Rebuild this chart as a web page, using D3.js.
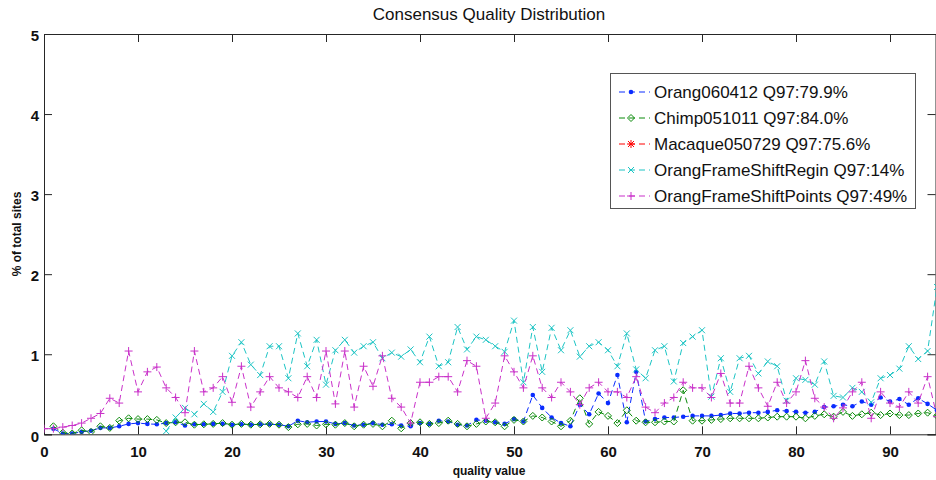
<!DOCTYPE html>
<html>
<head>
<meta charset="utf-8">
<script src="https://cdn.jsdelivr.net/npm/d3@7"></script>
<style>
  html, body { margin: 0; padding: 0; background: #fff; }
  svg { display: block; font-family: "Liberation Sans", Arial, Helvetica, sans-serif; }
</style>
</head>
<body>
<svg id="chart" width="936" height="480"></svg>
<script>
// quality values 0..95, each series starts at its own first quality value
const X_TICKS = [0, 10, 20, 30, 40, 50, 60, 70, 80, 90];
const Y_TICKS = [0, 1, 2, 3, 4, 5];

const LABELS = [
  "Orang060412 Q97:79.9%",
  "Chimp051011 Q97:84.0%",
  "Macaque050729 Q97:75.6%",
  "OrangFrameShiftRegin Q97:14%",
  "OrangFrameShiftPoints Q97:49%"
];

// Orang060412, quality 1..95
const orangStart = 1;
const orangVals = [
  0.07, 0.01, 0.01, 0.03, 0.045, 0.08, 0.08, 0.10, 0.13, 0.14,
  0.13, 0.125, 0.14, 0.15, 0.11, 0.125, 0.125, 0.13, 0.13, 0.12,
  0.125, 0.12, 0.125, 0.125, 0.12, 0.10, 0.17, 0.15, 0.16, 0.16,
  0.13, 0.14, 0.11, 0.12, 0.14, 0.12, 0.125, 0.11, 0.10, 0.14,
  0.13, 0.17, 0.16, 0.12, 0.11, 0.18, 0.17, 0.15, 0.13, 0.19,
  0.16, 0.49, 0.33, 0.21, 0.14, 0.10, 0.37, 0.25, 0.51, 0.39,
  0.74, 0.15, 0.78, 0.16, 0.19, 0.21, 0.21, 0.22, 0.23, 0.23,
  0.23, 0.24, 0.26, 0.26, 0.27, 0.27, 0.28, 0.30, 0.29, 0.28,
  0.27, 0.28, 0.34, 0.35, 0.37, 0.35, 0.41, 0.37, 0.46, 0.41,
  0.44, 0.37, 0.45, 0.38, 0.30
];

// Chimp051011, quality 1..95
const chimpStart = 1;
const chimpVals = [
  0.10, 0.02, 0.01, 0.05, 0.03, 0.10, 0.08, 0.17, 0.20, 0.19,
  0.19, 0.18, 0.14, 0.15, 0.15, 0.12, 0.125, 0.13, 0.14, 0.12,
  0.13, 0.12, 0.125, 0.13, 0.12, 0.09, 0.125, 0.13, 0.11, 0.125,
  0.12, 0.14, 0.10, 0.12, 0.13, 0.10, 0.17, 0.075, 0.14, 0.15,
  0.13, 0.14, 0.17, 0.13, 0.10, 0.13, 0.16, 0.15, 0.10, 0.18,
  0.16, 0.23, 0.21, 0.16, 0.10, 0.17, 0.45, 0.13, 0.28, 0.23,
  0.14, 0.30, 0.17, 0.15, 0.15, 0.16, 0.16, 0.55, 0.17, 0.17,
  0.18, 0.19, 0.20, 0.20, 0.20, 0.20, 0.21, 0.22, 0.22, 0.22,
  0.20, 0.23, 0.25, 0.22, 0.28, 0.23, 0.25, 0.27, 0.24, 0.26,
  0.24, 0.24, 0.26, 0.27, 0.23
];

// Macaque050729: nothing visible in the plot area
const macaqueStart = 1;
const macaqueVals = [];

// OrangFrameShiftRegin, quality 13..95
const reginStart = 13;
const reginVals = [
  0.04, 0.21, 0.33, 0.25, 0.38, 0.28, 0.53, 0.98, 1.15, 0.87,
  0.74, 1.10, 1.10, 0.70, 1.26, 0.85, 1.18, 0.62, 1.05, 1.18,
  1.02, 1.10, 1.15, 0.95, 1.02, 0.97, 1.06, 0.90, 1.22, 0.85,
  0.90, 1.34, 1.06, 1.22, 1.18, 1.10, 1.03, 1.42, 0.65, 1.34,
  0.78, 1.33, 1.05, 1.30, 0.97, 1.10, 1.15, 1.05, 0.85, 1.26,
  0.81, 0.70, 1.05, 1.10, 0.66, 1.14, 1.22, 1.30, 0.47, 0.95,
  0.53, 0.95, 0.98, 0.76, 0.91, 0.85, 0.42, 0.70, 0.68, 0.62,
  0.91, 0.48, 0.46, 0.58, 0.53, 0.40, 0.70, 0.74, 0.82, 1.10,
  0.94, 1.04, 1.84
];

// OrangFrameShiftPoints, quality 0..95
const pointsStart = 0;
const pointsVals = [
  0.07, 0.07, 0.09, 0.11, 0.14, 0.20, 0.26, 0.45, 0.39, 1.04,
  0.53, 0.78, 0.84, 0.58, 0.46, 0.27, 1.04, 0.53, 0.58, 0.72,
  0.40, 0.85, 0.34, 0.53, 0.72, 0.58, 0.53, 0.46, 0.72, 0.46,
  1.04, 0.38, 1.04, 0.34, 0.85, 0.60, 0.98, 0.45, 0.34, 0.14,
  0.65, 0.65, 0.72, 0.72, 0.53, 0.92, 0.85, 0.20, 0.39, 0.98,
  0.78, 0.58, 0.98, 0.58, 0.46, 0.65, 0.53, 0.37, 0.58, 0.65,
  0.53, 0.53, 0.46, 0.72, 0.34, 0.27, 0.39, 0.46, 0.65, 0.58,
  0.58, 0.46, 0.76, 0.39, 0.39, 0.85, 0.58, 0.35, 0.65, 0.39,
  0.53, 0.92, 0.45, 0.34, 0.20, 0.33, 0.53, 0.65, 0.20, 0.53,
  0.39, 0.34, 0.53, 0.39, 0.72, 0.22
];

const COLORS = ["#0a2cff", "#0a8a0a", "#ff0000", "#1cc4c4", "#c931c9"];
const MARKERS = ["dot", "diamond", "star", "x", "plus"];

const series = [
  { start: orangStart, vals: orangVals },
  { start: chimpStart, vals: chimpVals },
  { start: macaqueStart, vals: macaqueVals },
  { start: reginStart, vals: reginVals },
  { start: pointsStart, vals: pointsVals }
].map((s, i) => ({
  label: LABELS[i],
  color: COLORS[i],
  marker: MARKERS[i],
  points: s.vals.map((v, j) => ({ q: s.start + j, v }))
}));

const svg = d3.select("#chart");
const margin = { left: 44, top: 34, right: 0, bottom: 46 };
const W = 936, H = 480;

const x = d3.scaleLinear().domain([0, 95]).range([margin.left, 937]);
const y = d3.scaleLinear().domain([0, 5]).range([H - margin.bottom + 0.3, margin.top]);

const axisColor = "#262626";

function markerPath(type) {
  switch (type) {
    case "diamond": return "M0,-3.5L3.5,0L0,3.5L-3.5,0Z";
    case "x": return "M-3,-3L3,3M-3,3L3,-3";
    case "plus": return "M-4,0L4,0M0,-4L0,4";
    case "star": return "M-4,0L4,0M0,-4L0,4M-3,-3L3,3M-3,3L3,-3";
    default: return null;
  }
}

function drawMarker(sel, type, color) {
  if (type === "dot") {
    sel.append("circle").attr("r", 2.3).attr("fill", color);
  } else {
    sel.append("path")
      .attr("d", markerPath(type))
      .attr("fill", "none")
      .attr("stroke", color)
      .attr("stroke-width", 1);
  }
}

// clip
svg.append("clipPath").attr("id", "plotclip")
  .append("rect")
  .attr("x", margin.left).attr("y", margin.top)
  .attr("width", W - margin.left).attr("height", y(0) - margin.top);

// axes frame
const yAxis = svg.append("g")
  .attr("transform", `translate(${margin.left},0)`)
  .call(d3.axisLeft(y).tickValues(Y_TICKS).tickSize(-8).tickPadding(5).tickFormat(d3.format("d")));
const xAxis = svg.append("g")
  .attr("transform", `translate(0,${y(0)})`)
  .call(d3.axisBottom(x).tickValues(X_TICKS).tickSize(-8).tickPadding(12).tickFormat(d3.format("d")));
const xTop = svg.append("g")
  .attr("transform", `translate(0,${y(5)})`)
  .call(d3.axisTop(x).tickValues(X_TICKS).tickSize(-8).tickFormat(""));
const yRight = svg.append("g")
  .attr("transform", `translate(935.5,0)`)
  .call(d3.axisRight(y).tickValues(Y_TICKS).tickSize(-8).tickFormat(""));

[yAxis, xAxis, xTop, yRight].forEach((g) => {
  g.selectAll("path.domain").attr("stroke", axisColor).attr("stroke-width", 1);
  g.selectAll(".tick line").attr("stroke", axisColor);
  g.selectAll(".tick text")
    .attr("fill", "#111")
    .style("font-size", "15px")
    .style("font-weight", "bold")
    .style("font-family", "'Liberation Sans', Arial, sans-serif");
});
yAxis.selectAll(".tick text").attr("dy", "0.45em");

// lines + markers
const line = d3.line().x((d) => x(d.q)).y((d) => y(d.v));
const plot = svg.append("g").attr("clip-path", "url(#plotclip)");

series.forEach((s) => {
  if (!s.points.length) return;
  const g = plot.append("g");
  g.append("path")
    .datum(s.points)
    .attr("d", line)
    .attr("fill", "none")
    .attr("stroke", s.color)
    .attr("stroke-width", 1)
    .attr("stroke-dasharray", "6,4");
  g.selectAll("g.m")
    .data(s.points)
    .join("g")
    .attr("class", "m")
    .attr("transform", (d) => `translate(${x(d.q)},${y(d.v)})`)
    .each(function () { drawMarker(d3.select(this), s.marker, s.color); });
});

// title and labels
svg.append("text")
  .attr("x", 489).attr("y", 20)
  .attr("text-anchor", "middle")
  .style("font-size", "17px")
  .attr("fill", "#111")
  .text("Consensus Quality Distribution");

svg.append("text")
  .attr("x", 489).attr("y", 475)
  .attr("text-anchor", "middle")
  .style("font-size", "12px")
  .style("font-weight", "bold")
  .attr("fill", "#111")
  .text("quality value");

svg.append("text")
  .attr("transform", "translate(21,234) rotate(-90)")
  .attr("text-anchor", "middle")
  .style("font-size", "12px")
  .style("font-weight", "bold")
  .attr("fill", "#111")
  .text("% of total sites");

// legend
const legend = svg.append("g").attr("transform", "translate(610,73)");
legend.append("rect")
  .attr("x", 0.5).attr("y", 0.5)
  .attr("width", 305).attr("height", 135)
  .attr("fill", "#fff")
  .attr("stroke", "#555");

series.forEach((s, i) => {
  const row = legend.append("g").attr("transform", `translate(0,${19 + i * 26})`);
  row.append("line")
    .attr("x1", 9).attr("x2", 40).attr("y1", 0).attr("y2", 0)
    .attr("stroke", s.color)
    .attr("stroke-dasharray", "6,4");
  drawMarker(row.append("g").attr("transform", "translate(21,0)"), s.marker, s.color);
  row.append("text")
    .attr("x", 44).attr("y", 0).attr("dy", "0.36em")
    .style("font-size", "17px")
    .attr("fill", "#111")
    .text(s.label);
});
</script>
</body>
</html>
